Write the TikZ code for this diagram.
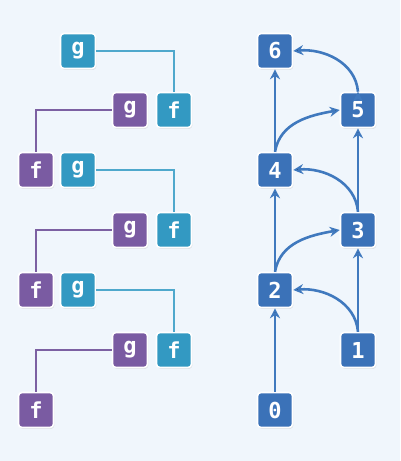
\documentclass[tikz,border=0pt]{standalone}
\usepackage{fontspec}
\setmonofont{DejaVu Sans Mono}
\usetikzlibrary{positioning, arrows.meta, shadows}
\definecolor{bgcol}{HTML}{F0F6FC}
\definecolor{tealbox}{HTML}{3399C2}
\definecolor{purplebox}{HTML}{7A5BA2}
\definecolor{bluebox}{HTML}{3B72B8}
\definecolor{tealline}{HTML}{4FA8CC}
\definecolor{purpleline}{HTML}{7C60A2}
\definecolor{blueline}{HTML}{4079BE}
\tikzset{
x=1pt, y=-1pt, % pixel-like coordinates
box/.style={rounded corners=3.5pt, minimum size=35pt, inner sep=0pt, draw=white, line width=1.6pt,
  text=white, font=\ttfamily\bfseries\fontsize{22}{22}\selectfont,
  drop shadow={opacity=0.2, shadow xshift=0.8pt, shadow yshift=-1.4pt}}, % every square
tbox/.style={box, fill=tealbox},
pbox/.style={box, fill=purplebox},
nbox/.style={box, fill=bluebox},
tlink/.style={draw=tealline, line width=2.6pt},
plink/.style={draw=purpleline, line width=2.6pt},
dep/.style={draw=blueline, line width=2.6pt, -{Stealth[length=10pt, width=10pt]}},
}
\begin{document}
\begin{tikzpicture}
    \fill[bgcol] (0,0) rectangle (400,461);
    \useasboundingbox (0,0) rectangle (400,461);
    % calls f and g
    \node[tbox] (g1) at (78,51) {g};
    \node[pbox] (g2) at (130,110) {g};
    \node[tbox] (f1) at (174,110) {f};
    \node[pbox] (f2) at (36,170) {f};
    \node[tbox] (g3) at (78,170) {g};
    \node[pbox] (g4) at (130,230) {g};
    \node[tbox] (f3) at (174,230) {f};
    \node[pbox] (f4) at (36,290) {f};
    \node[tbox] (g5) at (78,290) {g};
    \node[pbox] (g6) at (130,350) {g};
    \node[tbox] (f5) at (174,350) {f};
    \node[pbox] (f6) at (36,410) {f};
    \draw[tlink] (g1.east) -| (f1.north);
    \draw[plink] (g2.west) -| (f2.north);
    \draw[tlink] (g3.east) -| (f3.north);
    \draw[plink] (g4.west) -| (f4.north);
    \draw[tlink] (g5.east) -| (f5.north);
    \draw[plink] (g6.west) -| (f6.north);
    % numbered steps
    \node[nbox] (n6) at (275,51) {6};
    \node[nbox] (n5) at (358,110) {5};
    \node[nbox] (n4) at (275,170) {4};
    \node[nbox] (n3) at (358,230) {3};
    \node[nbox] (n2) at (275,290) {2};
    \node[nbox] (n1) at (358,350) {1};
    \node[nbox] (n0) at (275,410) {0};
    \draw[dep]
        (n0) edge (n2)
        (n1) edge (n3)
        (n1.north) edge[out=95, in=5] (n2.east)
        (n2.north) edge[out=80, in=190] (n3.west)
        (n2) edge (n4)
        (n3) edge (n5)
        (n3.north) edge[out=95, in=5] (n4.east)
        (n4.north) edge[out=80, in=190] (n5.west)
        (n4) edge (n6)
        (n5.north) edge[out=95, in=5] (n6.east)
        ;
\end{tikzpicture}
\end{document}
